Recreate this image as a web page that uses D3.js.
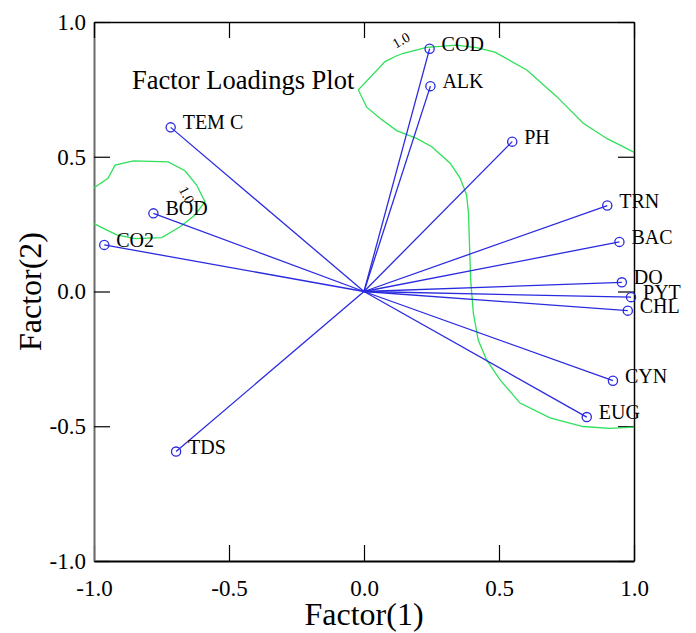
<!DOCTYPE html>
<html>
<head>
<meta charset="utf-8">
<script src="https://cdn.jsdelivr.net/npm/d3@7"></script>
<style>
  body { margin: 0; background: #fff; }
  svg { display: block; font-family: "Liberation Serif", "Times New Roman", serif; }
</style>
</head>
<body>
<svg id="chart" width="696" height="633"></svg>
<script>
// ---------------------------------------------
// factor loadings (factor 1, factor 2)
// ---------------------------------------------
var variables = ["COD", "ALK", "PH", "TEM C", "BOD", "CO2", "TDS", "TRN", "BAC", "DO", "PYT", "CHL", "CYN", "EUG"];
var factor1   = [0.243, 0.246, 0.549, -0.716, -0.780, -0.962, -0.696, 0.901, 0.946, 0.955, 0.989, 0.977, 0.922, 0.825];
var factor2   = [0.901, 0.762, 0.556, 0.609, 0.290, 0.173, -0.594, 0.319, 0.184, 0.034, -0.021, -0.071, -0.331, -0.466];

var tickValues = [-1.0, -0.5, 0.0, 0.5, 1.0];

// 1.0 contour lines
var contourLeft = [
  [-1.003, 0.383], [-0.948, 0.420], [-0.922, 0.469], [-0.854, 0.485], [-0.725, 0.481],
  [-0.663, 0.448], [-0.620, 0.395], [-0.589, 0.333], [-0.626, 0.284], [-0.681, 0.240],
  [-0.749, 0.200], [-0.848, 0.196], [-0.916, 0.210], [-1.003, 0.253]
];
var contourRight = [
  [1.004, 0.515], [0.899, 0.568], [0.812, 0.624], [0.714, 0.723], [0.603, 0.822],
  [0.485, 0.888], [0.417, 0.905], [0.343, 0.914], [0.232, 0.906], [0.146, 0.884],
  [0.115, 0.872], [0.078, 0.853], [-0.021, 0.748], [0.010, 0.684], [0.059, 0.643],
  [0.121, 0.597], [0.195, 0.568], [0.251, 0.537], [0.319, 0.476], [0.356, 0.421],
  [0.380, 0.358], [0.387, 0.291], [0.391, 0.165], [0.395, 0.043], [0.405, -0.080],
  [0.423, -0.180], [0.454, -0.254], [0.504, -0.328], [0.578, -0.414], [0.689, -0.469],
  [0.811, -0.501], [0.911, -0.508], [1.000, -0.503]
];
var contourLabelText = ["1.0", "1.0"];
var contourLabelX    = [0.137, -0.656];
var contourLabelY    = [0.933, 0.358];
var contourLabelRot  = [-30, 62];

var svg = d3.select("#chart");

var x = d3.scaleLinear().domain([-1, 1]).range([94, 634]);
var y = d3.scaleLinear().domain([-1, 1]).range([561, 22]);

var fmt = function(d){ return d.toFixed(1); };
var blue = "#2a2ae0";
var green = "#2ee05a";

// clip for the contours
svg.append("defs").append("clipPath").attr("id", "plotClip")
  .append("rect")
  .attr("x", x(-1)).attr("y", y(1))
  .attr("width", x(1) - x(-1)).attr("height", y(-1) - y(1));

// --------------------------------
// axes, ticks point inwards
// --------------------------------
var gBottom = svg.append("g").attr("transform", "translate(0," + y(-1) + ")")
  .call(d3.axisBottom(x).tickValues(tickValues).tickFormat(fmt).tickSize(-16).tickSizeOuter(0).tickPadding(19));
var gLeft = svg.append("g").attr("transform", "translate(" + x(-1) + ",0)")
  .call(d3.axisLeft(y).tickValues(tickValues).tickFormat(fmt).tickSize(-16).tickSizeOuter(0).tickPadding(8));
var gTop = svg.append("g").attr("transform", "translate(0," + y(1) + ")")
  .call(d3.axisTop(x).tickValues(tickValues).tickFormat("").tickSize(-16).tickSizeOuter(0));
var gRight = svg.append("g").attr("transform", "translate(" + x(1) + ",0)")
  .call(d3.axisRight(y).tickValues(tickValues).tickFormat("").tickSize(-16).tickSizeOuter(0));

[gBottom, gLeft, gTop, gRight].forEach(function(g){
  g.selectAll("text").attr("font-family", "Liberation Serif, Times New Roman, serif")
    .attr("font-size", "23px").attr("fill", "#000");
  g.selectAll(".tick line").attr("stroke", "#000").attr("stroke-width", 1.2);
});
gBottom.select(".domain").attr("stroke", "#000").attr("stroke-width", 2);
gTop.select(".domain").attr("stroke", "#000").attr("stroke-width", 1.5);
gRight.select(".domain").attr("stroke", "#000").attr("stroke-width", 1.5);
gLeft.select(".domain").attr("stroke", "#6a6a6a").attr("stroke-width", 2);

// axis titles
svg.append("text")
  .attr("x", x(0)).attr("y", 625)
  .attr("text-anchor", "middle")
  .attr("font-size", "32px")
  .text("Factor(1)");
svg.append("text")
  .attr("transform", "translate(41," + y(0) + ") rotate(-90)")
  .attr("text-anchor", "middle")
  .attr("font-size", "32px")
  .text("Factor(2)");

// plot title
svg.append("text")
  .attr("x", 132).attr("y", 89)
  .attr("font-size", "26.5px")
  .text("Factor Loadings Plot");

// --------------------------------
// contour lines
// --------------------------------
var line = d3.line().x(function(d){ return x(d[0]); }).y(function(d){ return y(d[1]); });
var gContour = svg.append("g").attr("clip-path", "url(#plotClip)");
[contourLeft, contourRight].forEach(function(c){
  gContour.append("path")
    .attr("d", line(c))
    .attr("fill", "none")
    .attr("stroke", green)
    .attr("stroke-width", 1.3);
});
contourLabelText.forEach(function(t, i){
  svg.append("text")
    .attr("transform", "translate(" + x(contourLabelX[i]) + "," + y(contourLabelY[i]) + ") rotate(" + contourLabelRot[i] + ")")
    .attr("text-anchor", "middle")
    .attr("dy", "0.35em")
    .attr("font-size", "14px")
    .text(t);
});

// --------------------------------
// loading vectors
// --------------------------------
var gVec = svg.append("g");
variables.forEach(function(name, i){
  gVec.append("line")
    .attr("x1", x(0)).attr("y1", y(0))
    .attr("x2", x(factor1[i])).attr("y2", y(factor2[i]))
    .attr("stroke", blue)
    .attr("stroke-width", 1.3);
});
variables.forEach(function(name, i){
  gVec.append("circle")
    .attr("cx", x(factor1[i])).attr("cy", y(factor2[i]))
    .attr("r", 4.6)
    .attr("fill", "none")
    .attr("stroke", blue)
    .attr("stroke-width", 1.3);
  gVec.append("text")
    .attr("x", x(factor1[i]) + 12).attr("y", y(factor2[i]) + 2)
    .attr("font-size", "20px")
    .text(name);
});
</script>
</body>
</html>
